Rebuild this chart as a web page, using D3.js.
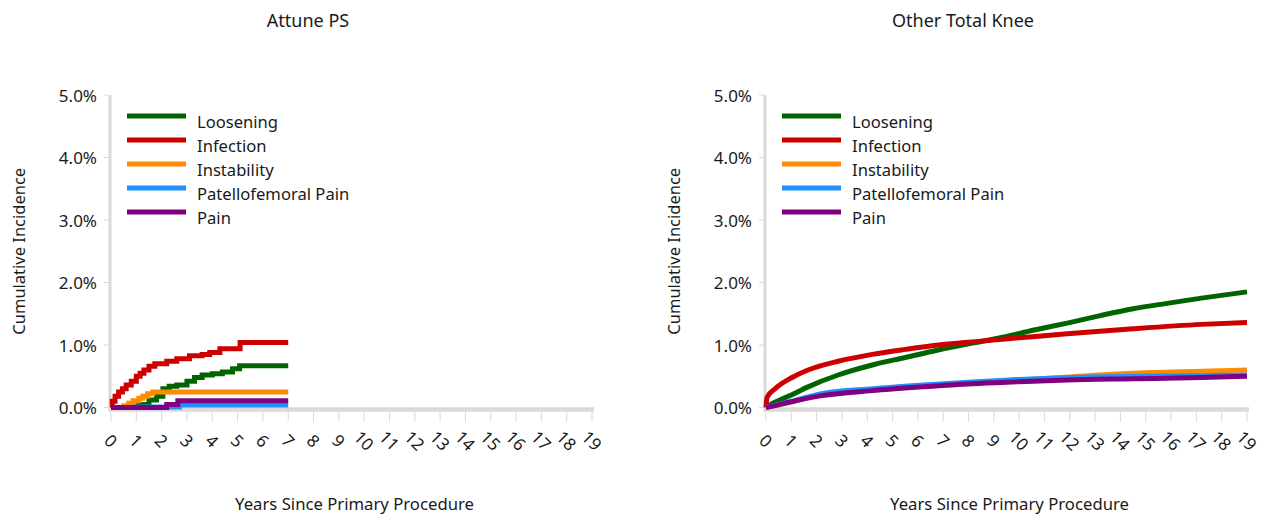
<!DOCTYPE html>
<html>
<head>
<meta charset="utf-8">
<script src="https://cdn.jsdelivr.net/npm/d3@7"></script>
<style>
  body { margin: 0; background: #fff; }
  text { font-family: "Noto Sans", "Open Sans", sans-serif; fill: #1a1a1a; }
</style>
</head>
<body>
<div id="chart"></div>
<script>
// series names and colours (legend order)
const seriesNames = ["Loosening", "Infection", "Instability", "Patellofemoral Pain", "Pain"];
const seriesColors = ["#006400", "#cc0000", "#ff8c00", "#1e90ff", "#800080"];

// x ticks (years) and y ticks (percent)
const yearTicks = d3.range(0, 20);
const pctTicks = [0, 1, 2, 3, 4, 5];

// Attune PS, [years, cumulative incidence %]
const attuneLoosening = [[0,0],[0.75,0.02],[1.1,0.05],[1.5,0.12],[1.8,0.18],[2.05,0.3],[2.3,0.34],[2.6,0.36],[3.0,0.42],[3.3,0.48],[3.6,0.52],[4.0,0.54],[4.4,0.57],[4.8,0.62],[5.08,0.67],[7,0.67]];
const attuneInfection = [[0,0],[0.05,0.1],[0.16,0.18],[0.3,0.25],[0.45,0.3],[0.6,0.36],[0.8,0.42],[1.0,0.5],[1.15,0.55],[1.3,0.6],[1.5,0.66],[1.73,0.7],[2.2,0.74],[2.6,0.78],[3.1,0.83],[3.6,0.85],[3.9,0.88],[4.3,0.94],[5.1,1.04],[7,1.04]];
const attuneInstability = [[0,0],[0.5,0.03],[0.7,0.07],[0.87,0.11],[1.1,0.15],[1.26,0.18],[1.45,0.22],[1.65,0.25],[7,0.25]];
const attunePatello = [[0,0],[1.0,0.01],[2.7,0.04],[7,0.04]];
const attunePain = [[0,0],[2.2,0.05],[2.64,0.11],[7,0.11]];

// Other Total Knee
const otherLoosening = [[0,0],[0.24,0.06],[1,0.2],[1.66,0.33],[2.85,0.52],[4.2,0.68],[5.5,0.8],[6.8,0.92],[8.15,1.03],[9.3,1.12],[10.6,1.24],[11.9,1.35],[13.2,1.47],[14.5,1.58],[15.9,1.67],[17.2,1.75],[19,1.85]];
const otherInfection = [[0,0],[0.04,0.16],[0.36,0.3],[1.03,0.48],[1.66,0.6],[2.85,0.74],[4.2,0.85],[5.5,0.93],[6.8,1.0],[8.15,1.05],[9.86,1.11],[11.9,1.18],[14.5,1.26],[17.2,1.33],[19,1.36]];
const otherInstability = [[0,0],[0.5,0.04],[1,0.09],[2.2,0.21],[4.2,0.29],[6.2,0.35],[8.15,0.4],[10,0.44],[12,0.49],[13.5,0.53],[15.2,0.56],[17.2,0.58],[19,0.6]];
const otherPatello = [[0,0],[0.5,0.05],[1,0.1],[2.2,0.22],[4.2,0.3],[6.2,0.36],[8.15,0.41],[10,0.45],[12,0.48],[14.5,0.5],[17.2,0.51],[19,0.52]];
const otherPain = [[0,0],[0.36,0.03],[0.87,0.08],[2.2,0.19],[4.2,0.27],[6.2,0.33],[8.15,0.38],[9.9,0.41],[11.9,0.44],[14.5,0.46],[17.2,0.48],[19,0.5]];

const panels = [
  { title: "Attune PS", left: 111, curve: d3.curveStepAfter,
    series: [attuneLoosening, attuneInfection, attuneInstability, attunePatello, attunePain] },
  { title: "Other Total Knee", left: 766, curve: d3.curveMonotoneX,
    series: [otherLoosening, otherInfection, otherInstability, otherPatello, otherPain] }
];

const width = 1271, height = 521;
const plotW = 481, plotTop = 95, plotBottom = 407.5;

let svg = d3.select("#chart")
    .append("svg")
    .attr("width", width)
    .attr("height", height);

panels.forEach(p => {
    let g = svg.append("g").attr("transform", `translate(${p.left}, 0)`);

    let x = d3.scaleLinear().domain([0, 19]).range([0, plotW]);
    let y = d3.scaleLinear().domain([0, 5]).range([plotBottom, plotTop]);

    // title
    g.append("text")
        .attr("x", 197).attr("y", 20)
        .attr("text-anchor", "middle")
        .attr("dominant-baseline", "central")
        .style("font-size", "18px")
        .text(p.title);

    // y axis
    g.append("line")
        .attr("x1", -1).attr("x2", -1)
        .attr("y1", plotTop).attr("y2", plotBottom + 4)
        .attr("stroke", "#d9d9d9").attr("stroke-width", 3);
    g.selectAll(".ytick").data(pctTicks).enter()
        .append("line")
        .attr("x1", -7).attr("x2", -2)
        .attr("y1", d => y(d)).attr("y2", d => y(d))
        .attr("stroke", "#d9d9d9").attr("stroke-width", 1);
    g.selectAll(".ylab").data(pctTicks).enter()
        .append("text")
        .attr("x", -14).attr("y", d => y(d))
        .attr("text-anchor", "end")
        .attr("dominant-baseline", "central")
        .style("font-size", "17px")
        .text(d => d.toFixed(1) + "%");

    // x axis
    g.append("line")
        .attr("x1", -2).attr("x2", plotW + 2)
        .attr("y1", plotBottom + 2).attr("y2", plotBottom + 2)
        .attr("stroke", "#d9d9d9").attr("stroke-width", 4.5);
    g.selectAll(".xtick").data(yearTicks).enter()
        .append("line")
        .attr("x1", d => x(d)).attr("x2", d => x(d))
        .attr("y1", plotBottom + 4).attr("y2", plotBottom + 14)
        .attr("stroke", "#d9d9d9").attr("stroke-width", 1);
    g.selectAll(".xlab").data(yearTicks).enter()
        .append("text")
        .attr("transform", d => `translate(${x(d)}, ${plotBottom + 33}) rotate(45)`)
        .attr("text-anchor", "middle")
        .attr("dominant-baseline", "central")
        .style("font-size", "17px")
        .text(d => d);

    // axis titles
    g.append("text")
        .attr("transform", `translate(-93, ${(plotTop + plotBottom) / 2}) rotate(-90)`)
        .attr("text-anchor", "middle")
        .attr("dominant-baseline", "central")
        .style("font-size", "16.5px")
        .text("Cumulative Incidence");
    g.append("text")
        .attr("x", plotW / 2 + 3).attr("y", 503)
        .attr("text-anchor", "middle")
        .attr("dominant-baseline", "central")
        .style("font-size", "16.7px")
        .text("Years Since Primary Procedure");

    // lines
    let line = d3.line()
        .x(d => x(d[0]))
        .y(d => y(d[1]))
        .curve(p.curve);
    g.selectAll(".series").data(p.series).enter()
        .append("path")
        .attr("d", line)
        .attr("fill", "none")
        .attr("stroke", (d, i) => seriesColors[i])
        .attr("stroke-width", 5);

    // legend
    let leg = g.selectAll(".leg").data(seriesNames).enter()
        .append("g")
        .attr("transform", (d, i) => `translate(16, ${116 + i * 24})`);
    leg.append("line")
        .attr("x1", 0).attr("x2", 59)
        .attr("stroke", (d, i) => seriesColors[i])
        .attr("stroke-width", 5);
    leg.append("text")
        .attr("x", 70).attr("y", 5)
        .attr("dominant-baseline", "central")
        .style("font-size", "16.6px")
        .text(d => d);
});
</script>
</body>
</html>
